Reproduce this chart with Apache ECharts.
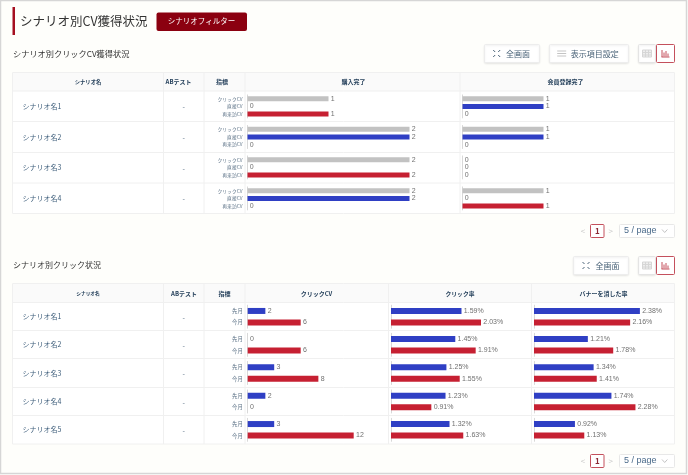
<!DOCTYPE html>
<html>
<head>
<meta charset="utf-8">
<style>
    html, body { margin: 0; padding: 0; background: #fefefb; }
    #chart { width: 688px; height: 475px; }
</style>
<script src="https://cdn.jsdelivr.net/npm/echarts@6/dist/echarts.min.js"></script>
</head>
<body>
<div id="chart"></div>
<script>
// 上の表のデータ
const cvScenarios = ["シナリオ名1", "シナリオ名2", "シナリオ名3", "シナリオ名4"];
const cvMetrics = ["クリックCV", "直接CV", "再来訪CV"];
const purchaseDone = [[1, 0, 1], [2, 2, 0], [2, 0, 2], [2, 2, 0]];
const memberDone = [[1, 1, 0], [1, 1, 0], [0, 0, 0], [1, 0, 1]];

// 下の表のデータ
const clickScenarios = ["シナリオ名1", "シナリオ名2", "シナリオ名3", "シナリオ名4", "シナリオ名5"];
const months = ["先月", "今月"];
const clickCv = [[2, 6], [0, 6], [3, 8], [2, 0], [3, 12]];
const clickRate = [[1.59, 2.03], [1.45, 1.91], [1.25, 1.55], [1.23, 0.91], [1.32, 1.63]];
const bannerRate = [[2.38, 2.16], [1.21, 1.78], [1.34, 1.41], [1.74, 2.28], [0.92, 1.13]];

const FONT = '"Noto Sans CJK JP", "Noto Sans", sans-serif';
const LATIN = '"Liberation Sans", sans-serif';
const NAVY = "#3f5f7c";
const GREY = "#c2c2c2";
const BLUE = "#2f3fc4";
const RED = "#c62032";
const LINE = "#f0f0f0";

const graphics = [];
const grids = [];
const xAxes = [];
const yAxes = [];
const series = [];

function addText(text, x, y, size, color, align, weight, family) {
    graphics.push({
        type: "text", z: 10,
        style: {
            text, x, y, fill: color || NAVY, align: align || "left", verticalAlign: "middle",
            font: `${weight || "normal"} ${size}px ${family || FONT}`
        }
    });
}

function addRect(x, y, w, h, fill, stroke, r, shadow) {
    graphics.push({
        type: "rect", z: 5,
        shape: { x, y, width: w, height: h, r: r || 0 },
        style: {
            fill: fill || "none", stroke: stroke || "none", lineWidth: 1,
            shadowBlur: shadow ? 2 : 0, shadowColor: "rgba(0,0,0,0.08)", shadowOffsetY: shadow ? 1 : 0
        }
    });
}

function addLine(x1, y1, x2, y2, color, width) {
    graphics.push({
        type: "line", z: 6,
        shape: { x1, y1, x2, y2 },
        style: { stroke: color || LINE, lineWidth: width || 1 }
    });
}

// 全画面アイコン
function expandIcon(cx, cy) {
    const c = "#4a6378";
    [[-1, -1], [1, -1], [-1, 1], [1, 1]].forEach(([a, b]) => {
        addLine(cx + a * 1.5, cy + b * 1.5, cx + a * 3.5, cy + b * 3.5, c, 1);
    });
}

function settingIcon(cx, cy) {
    [-2.5, 0, 2.5].forEach(d => addLine(cx - 4.5, cy + d, cx + 4.5, cy + d, "#c4c4c4", 1));
}

function tableIcon(cx, cy) {
    const c = "#d6d6d6";
    addRect(cx - 4.5, cy - 3.5, 9, 7, "#eeeeee", c);
    addLine(cx - 4.5, cy - 1, cx + 4.5, cy - 1, c);
    addLine(cx - 4.5, cy + 1.5, cx + 4.5, cy + 1.5, c);
    addLine(cx - 1.5, cy - 3.5, cx - 1.5, cy + 3.5, c);
    addLine(cx + 1.5, cy - 3.5, cx + 1.5, cy + 3.5, c);
}

function chartIcon(cx, cy) {
    const c = "#c4505c";
    addLine(cx - 4, cy + 3.5, cx + 4, cy + 3.5, c);
    addLine(cx - 3.5, cy - 3.5, cx - 3.5, cy + 3.5, c);
    addLine(cx - 1.5, cy - 1, cx - 1.5, cy + 3, c, 1);
    addLine(cx + 0.5, cy - 2.5, cx + 0.5, cy + 3, c, 1);
    addLine(cx + 2.5, cy, cx + 2.5, cy + 3, c, 1);
}

function addButton(x, y, w, h, label, textX, icon, iconX) {
    addRect(x + 0.5, y + 0.5, w, h, "#ffffff", "#ededed", 1, true);
    icon(iconX, y + h / 2 + 0.5);
    addText(label, textX, y + h / 2 + 0.5, 8, "#4a6378");
}

function addViewSwitch(y) {
    addRect(638.5, y + 0.5, 17, 18, "#ffffff", "#e4e4e4", 1, true);
    tableIcon(647, y + 9.5);
    addRect(656.5, y + 0.5, 18, 18, "#ffffff", "#c4505c", 1);
    chartIcon(665.5, y + 9.5);
}

function addPager(y) {
    addText("<", 583, y + 7, 8, "#c8c8c8", "center");
    addRect(590.5, y + 0.5, 13.5, 13, "#ffffff", "#c4505c", 1);
    addText("1", 597.3, y + 7, 8, "#8a2a35", "center", "bold");
    addText(">", 610.7, y + 7, 8, "#c8c8c8", "center");
    addRect(619.5, y + 0.5, 55, 13, "#ffffff", "#e8e8e8", 1);
    addText("5 / page", 624, y + 7, 9, "#4a6a8a", "left", "normal", LATIN);
    addLine(662, y + 5.5, 664.7, y + 8.5, "#c4c4c4");
    addLine(664.7, y + 8.5, 667.4, y + 5.5, "#c4c4c4");
}

// 表の枠（ヘッダー・罫線・シナリオ名）
function addTable(top, headBottom, rowLines, colLines, names) {
    const left = 12.5, right = 674.5;
    const bottom = rowLines[rowLines.length - 1];
    addRect(left, top, right - left, bottom - top, "#ffffff");
    addRect(left, top, right - left, headBottom - top, "#fafafa");
    addLine(left, top, right, top);
    addLine(left, headBottom, right, headBottom);
    rowLines.forEach(y => addLine(left, y, right, y));
    addLine(left, top, left, bottom);
    addLine(right, top, right, bottom);
    colLines.forEach(x => addLine(x, top, x, bottom));
    names.forEach((name, i) => {
        const cy = (i === 0 ? headBottom : rowLines[i - 1]) / 2 + rowLines[i] / 2;
        addText(name, 22.5, cy, 7, NAVY);
        addText("-", 183.7, cy + 0.5, 7, "#5a7085", "center");
    });
}

// セル1つ分の棒グラフ
function addCell(values, cats, colors, left, width, max, cy, height, barWidth, suffix, showCats, catSize, labelSize) {
    const idx = grids.length;
    grids.push({ left, width, top: cy - height / 2, height, containLabel: false });
    xAxes.push({ gridIndex: idx, type: "value", min: 0, max, show: false });
    yAxes.push({
        gridIndex: idx, type: "category", inverse: true, data: cats, z: 20,
        axisLine: { show: true, lineStyle: { color: "#d8d8d8", width: 1 } },
        axisTick: { show: false },
        axisLabel: {
            show: showCats, fontSize: catSize, color: "#5a7085", fontFamily: FONT,
            margin: 5, interval: 0, align: "right"
        }
    });
    series.push({
        type: "bar", xAxisIndex: idx, yAxisIndex: idx, barWidth, animation: false,
        silent: true, z: 20,
        data: values.map((v, i) => ({ value: v, itemStyle: { color: colors[i] } })),
        label: {
            show: true, position: "right", distance: 2.3, fontSize: labelSize, color: "#707070",
            fontFamily: LATIN, formatter: p => p.value.toFixed(suffix ? 2 : 0) + suffix
        }
    });
}

// ページの枠とタイトル
graphics.push({
    type: "rect", z: 1,
    shape: { x: 0.5, y: 0.5, width: 686, height: 473 },
    style: { fill: "#fefefb", stroke: "#d6d6d6", lineWidth: 1.5 }
});
addRect(12.5, 7, 2.5, 28, "#a50f20");
addText("シナリオ別CV獲得状況", 20, 21, 12.5, "#333333");
addRect(156.5, 12.5, 90.5, 18.5, "#8b0010", null, 2);
addText("シナリオフィルター", 201.5, 21, 7.5, "#ffffff", "center");

// 上の表
addText("シナリオ別クリックCV獲得状況", 13, 53.5, 8.2, "#333333");
addButton(484, 44, 55, 18, "全画面", 506, expandIcon, 496.7);
addButton(549, 44, 79, 18, "表示項目設定", 570.7, settingIcon, 561.7);
addViewSwitch(44);
addTable(72.5, 91, [121.5, 152.5, 183, 213.5], [163.5, 204, 245, 460], cvScenarios);
addText("シナリオ名", 88, 82, 5.3, "#1f3b57", "center", "bold");
addText("ABテスト", 178.5, 82, 6, "#1f3b57", "center", "bold");
addText("指標", 222, 82, 6, "#1f3b57", "center", "bold");
addText("購入完了", 353.5, 82, 6, "#1f3b57", "center", "bold");
addText("会員登録完了", 565.5, 82, 6, "#1f3b57", "center", "bold");
const cvColors = [GREY, BLUE, RED];
const cvCenters = [106.4, 137, 167.4, 198.4];
cvScenarios.forEach((s, i) => {
    addCell(purchaseDone[i], cvMetrics, cvColors, 247.5, 202.5, 2.5, cvCenters[i], 23, 5, "", true, 4.8, 7);
    addCell(memberDone[i], cvMetrics, cvColors, 462.5, 202.5, 2.5, cvCenters[i], 23, 5, "", false, 4.8, 7);
});
addPager(224);

// 下の表
addText("シナリオ別クリック状況", 13, 265, 8, "#333333");
addButton(573, 256, 55, 18, "全画面", 595.5, expandIcon, 586);
addViewSwitch(256);
addTable(283.5, 302.5, [330.5, 358.5, 387.5, 415.5, 444], [163.5, 204, 245, 388.5, 531.5], clickScenarios);
addText("シナリオ名", 88, 293.5, 4.7, "#1f3b57", "center", "bold");
addText("ABテスト", 184, 293.5, 6, "#1f3b57", "center", "bold");
addText("指標", 224.5, 293.5, 6, "#1f3b57", "center", "bold");
addText("クリックCV", 316.5, 293.5, 6, "#1f3b57", "center", "bold");
addText("クリック率", 460, 293.5, 5.8, "#1f3b57", "center", "bold");
addText("バナーを消した率", 603.5, 293.5, 6, "#1f3b57", "center", "bold");
const clickColors = [BLUE, RED];
const clickCenters = [316.7, 344.8, 373, 401.5, 429.8];
clickScenarios.forEach((s, i) => {
    addCell(clickCv[i], months, clickColors, 247.7, 132.5, 15, clickCenters[i], 23, 6, "", true, 5.3, 7);
    addCell(clickRate[i], months, clickColors, 391, 133, 3, clickCenters[i], 23, 6, "%", false, 5.3, 7);
    addCell(bannerRate[i], months, clickColors, 534, 133.5, 3, clickCenters[i], 23, 6, "%", false, 5.3, 7);
});
addPager(454);

const chart = echarts.init(document.getElementById("chart"), null, { renderer: "canvas" });
chart.setOption({
    animation: false,
    backgroundColor: "#fefefb",
    grid: grids,
    xAxis: xAxes,
    yAxis: yAxes,
    series,
    graphic: { elements: graphics }
});
</script>
</body>
</html>
